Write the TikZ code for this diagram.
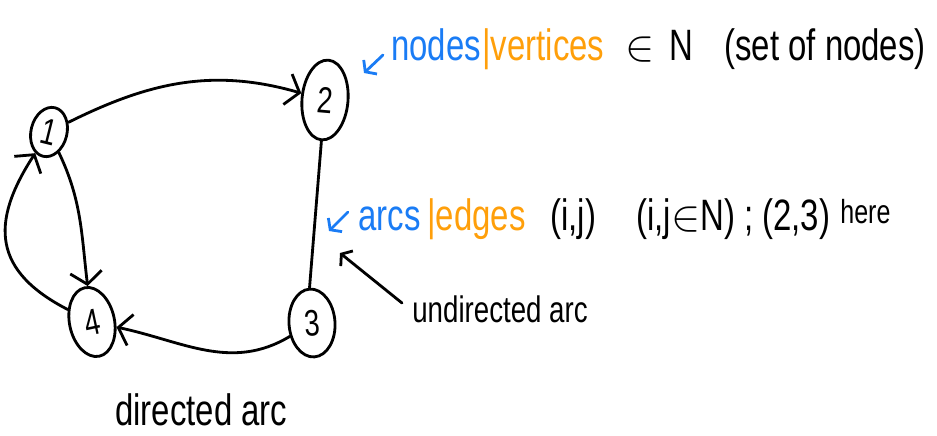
\documentclass[tikz,border=0pt]{standalone}
\usepackage{fontspec}
\setmainfont[FakeStretch=0.75]{Liberation Sans}
\usetikzlibrary{shapes.geometric,arrows.meta}
\definecolor{inkblue}{HTML}{1A7CF5}
\definecolor{inkorange}{HTML}{FF9F0A}
\begin{document}
\begin{tikzpicture}[x=0.02cm,y=0.02cm,
  ink/.style={line width=1.6pt, line cap=round, line join=round},
  vertex/.style={ink, draw, ellipse, inner sep=0pt, font=\fontsize{21}{24}\selectfont},
  tip/.style={-{Straight Barb[length=7pt,width=18pt]}},
  tipsm/.style={-{Straight Barb[length=4pt,width=11pt]}},
  note/.style={anchor=base west, inner sep=0pt, font=\fontsize{25}{28}\selectfont},
]
\useasboundingbox (0,0) rectangle (937,-436);

% vertices
\node[vertex, minimum width=0.72cm, minimum height=1.0cm, rotate=-14] (n1) at (49,-132) {1};
\node[vertex, minimum width=0.92cm, minimum height=1.6cm, rotate=-5] (n2) at (325,-100) {2};
\node[vertex, minimum width=0.92cm, minimum height=1.36cm, rotate=4] (n3) at (312,-323) {3};
\node[vertex, minimum width=0.9cm, minimum height=1.4cm, rotate=12] (n4) at (92,-322) {4};

% arcs
\draw[ink,tip] (n1) to[out=29,in=165] (n2);
\draw[ink,tip] (n1) to[out=-60,in=92] (n4);
\draw[ink,tip] (n4) to[out=150,in=-120,looseness=1.3] (n1);
\draw[ink,tip] (n3) to[out=-150,in=-15] (n4);
\draw[ink] (n2.south) -- (n3.north);

% first annotation line
\coordinate (pa1) at (383,-55);
\coordinate (pb1) at (364,-73);
\draw[ink,tipsm,inkblue] (pa1) -- (pb1);
\node[note, text=inkblue] (lblnodes) at (391,-60) {nodes};
\node[note, text=inkorange] (lblvert) at (482,-60) {|vertices};
\node[note] (lblin) at (625,-60) {$\in$\hspace{0.35em}N};
\node[note] (lblset) at (724,-60) {(set of nodes)};

% second annotation line
\coordinate (pa2) at (348,-212);
\coordinate (pb2) at (329,-231);
\draw[ink,tipsm,inkblue] (pa2) -- (pb2);
\node[note, text=inkblue] (lblarcs) at (358,-230) {arcs};
\node[note, text=inkorange] (lbledges) at (427,-230) {|edges};
\node[note] (lblij) at (550,-230) {(i,j)};
\node[note] (lblijn) at (636,-230) {(i,j$\in$N)\ ;\ (2,3)};
\node[note, font=\fontsize{19}{22}\selectfont] (lblhere) at (840,-223) {here};

% arc labels
\coordinate (pa3) at (402,-303);
\coordinate (pb3) at (340,-253);
\draw[ink,tipsm] (pa3) -- (pb3);
\node[note, font=\fontsize{21}{24}\selectfont] (lblund) at (412,-322) {undirected arc};
\node[note] (lbldir) at (115,-425) {directed arc};
\end{tikzpicture}
\end{document}
